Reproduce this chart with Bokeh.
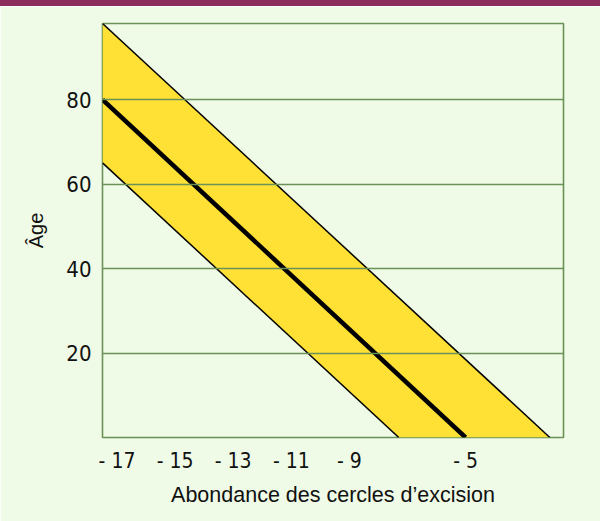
from bokeh.plotting import figure
from bokeh.models import Range1d, FixedTicker, Div
from bokeh.layouts import column
from bokeh.embed import file_html
from bokeh.resources import INLINE

# ---- data ----
center_abundance = [-17.5, -5.0]
center_age = [80, 0]
upper_abundance = [-17.5, -2.1]
upper_age = [98, 0]
lower_abundance = [-17.5, -7.3]
lower_age = [65, 0]
x_ticks = [-17, -15, -13, -11, -9, -5]
x_tick_labels = ["- 17", "- 15", "- 13", "- 11", "- 9", "- 5"]
y_ticks = [20, 40, 60, 80]
y_tick_labels = ["20", "40", "60", "80"]

BG = "#effbe6"
GREEN = "#6a9157"
YELLOW = "#ffe135"
MAROON = "#8a2d5c"
TICK_FONT = "DejaVu Sans Condensed"
TITLE_FONT = "Liberation Sans"

W = 600

# top maroon bar
bar = Div(text="", width=W, height=6,
          styles={"background-color": MAROON, "margin": "0", "padding": "0"})

p = figure(width=W, height=515, toolbar_location=None, output_backend="svg",
           x_range=Range1d(-17.5, -1.63), y_range=Range1d(0, 98),
           min_border_left=102, min_border_right=37, min_border_top=17,
           min_border_bottom=84)
p.background_fill_color = BG
p.border_fill_color = BG
p.outline_line_color = GREEN
p.outline_line_width = 1.6

band_x = upper_abundance + lower_abundance[::-1]
band_y = upper_age + lower_age[::-1]
p.patch(band_x, band_y, fill_color=YELLOW, line_color=None)
p.line(upper_abundance, upper_age, line_color="black", line_width=1.5)
p.line(lower_abundance, lower_age, line_color="black", line_width=1.5)
p.line(center_abundance, center_age, line_color="black", line_width=4.5)

p.xgrid.visible = False
p.ygrid.ticker = FixedTicker(ticks=y_ticks)
p.ygrid.grid_line_color = GREEN
p.ygrid.grid_line_width = 1.6
p.ygrid.level = "overlay"

p.xaxis.ticker = FixedTicker(ticks=x_ticks)
p.xaxis.major_label_overrides = {t: l for t, l in zip(x_ticks, x_tick_labels)}
p.yaxis.ticker = FixedTicker(ticks=y_ticks)
p.yaxis.major_label_overrides = {t: l for t, l in zip(y_ticks, y_tick_labels)}

for ax in (p.xaxis[0], p.yaxis[0]):
    ax.axis_line_color = None
    ax.major_tick_line_color = None
    ax.minor_tick_line_color = None
    ax.major_tick_out = 0
    ax.major_tick_in = 0
    ax.minor_tick_out = 0
    ax.major_label_text_font = TICK_FONT
    ax.major_label_text_color = "#111111"
    ax.axis_label_text_font = TITLE_FONT
    ax.axis_label_text_font_style = "normal"
    ax.axis_label_text_color = "#111111"

p.xaxis.major_label_text_font_size = "21px"
p.yaxis.major_label_text_font_size = "22px"
p.xaxis.major_label_standoff = 11
p.yaxis.major_label_standoff = 11

p.xaxis.axis_label = "Abondance des cercles d\u2019excision"
p.xaxis.axis_label_text_font_size = "21.5px"
p.xaxis.axis_label_standoff = 7
p.yaxis.axis_label = "\u00c2ge"
p.yaxis.axis_label_text_font_size = "20px"
p.yaxis.axis_label_standoff = 16

layout = column(bar, p, spacing=0)
open("out.html", "w").write(file_html(layout, INLINE))
